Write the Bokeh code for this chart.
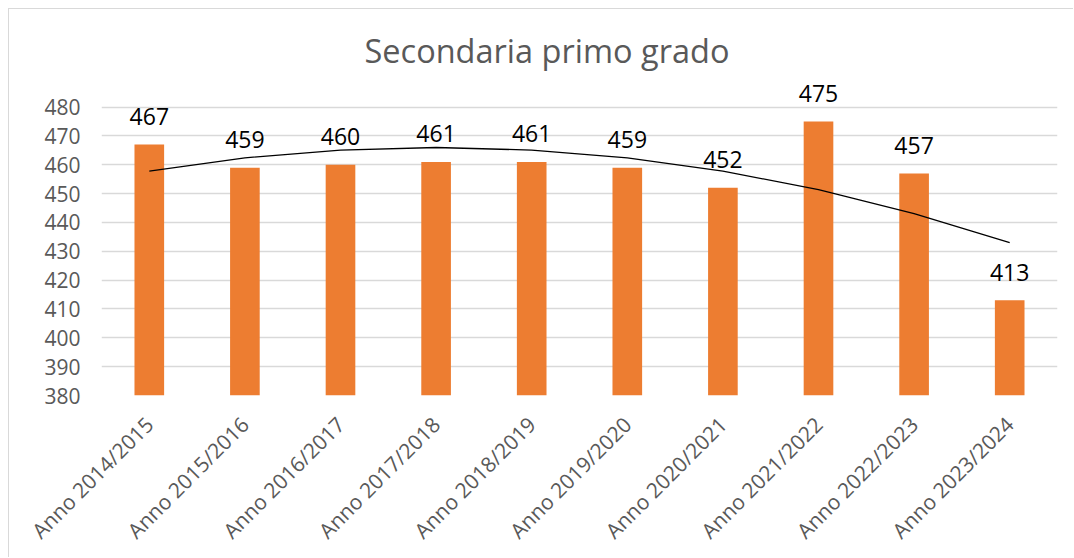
from bokeh.plotting import figure
from bokeh.models import ColumnDataSource, FixedTicker, FactorRange, Range1d, Title
from bokeh.core.properties import value
from bokeh.embed import file_html
from bokeh.resources import INLINE
import math

categories = ["Anno 2014/2015", "Anno 2015/2016", "Anno 2016/2017", "Anno 2017/2018",
              "Anno 2018/2019", "Anno 2019/2020", "Anno 2020/2021", "Anno 2021/2022",
              "Anno 2022/2023", "Anno 2023/2024"]
students = [467, 459, 460, 461, 461, 459, 452, 475, 457, 413]
# polynomial (order 2) trendline at each category
trend = [457.8, 462.4, 465.1, 466.0, 465.1, 462.4, 457.8, 451.4, 443.1, 433.0]
y_ticks = [380, 390, 400, 410, 420, 430, 440, 450, 460, 470, 480]
title_text = "Secondaria primo grado"

FONT = "Open Sans"
GRAY = "#595959"
GRID = "#d9d9d9"
ORANGE = "#ED7D31"

src = ColumnDataSource(dict(cat=categories, val=students,
                            lbl=[str(v) for v in students], trend=trend))

p = figure(x_range=FactorRange(*categories, range_padding=0),
           y_range=Range1d(380, 492),
           width=1065, height=549, output_backend="svg", toolbar_location=None,
           min_border_left=92, min_border_right=17, min_border_top=63, min_border_bottom=163)
p.styles = {"margin-left": "8px", "margin-top": "8px",
            "border-left": "1px solid #d9d9d9", "border-top": "1px solid #d9d9d9"}
p.title = Title(text=title_text, align="left", text_font=FONT, text_font_size="32.5px",
                text_color=GRAY, text_font_style="normal", offset=263, standoff=0)
p.outline_line_color = None
p.background_fill_color = "white"
p.border_fill_color = "white"

p.vbar(x="cat", top="val", bottom=380, width=0.31, source=src,
       fill_color=ORANGE, line_color=None)
p.line(x="cat", y="trend", source=src, line_color="black", line_width=1.3)
p.text(x="cat", y="val", text="lbl", source=src, text_align="center",
       text_baseline="alphabetic", y_offset=-28, text_font=value(FONT),
       text_font_size="23px", text_color="black")

p.yaxis.ticker = FixedTicker(ticks=y_ticks)
p.ygrid.ticker = FixedTicker(ticks=y_ticks)
p.ygrid.grid_line_color = GRID
p.ygrid.grid_line_width = 1.3
p.xgrid.grid_line_color = None

for ax in (p.xaxis, p.yaxis):
    ax.axis_line_color = None
    ax.major_tick_line_color = None
    ax.minor_tick_line_color = None
    ax.major_tick_out = 0
    ax.major_tick_in = 0
    ax.major_label_text_font = FONT
    ax.major_label_text_color = GRAY
p.yaxis.major_label_text_font_size = "21px"
p.xaxis.major_label_text_font_size = "21px"
p.yaxis.major_label_standoff = 21
p.xaxis.major_label_orientation = math.pi / 4
p.xaxis.major_label_standoff = 25

open("out.html", "w").write(file_html(p, INLINE))
